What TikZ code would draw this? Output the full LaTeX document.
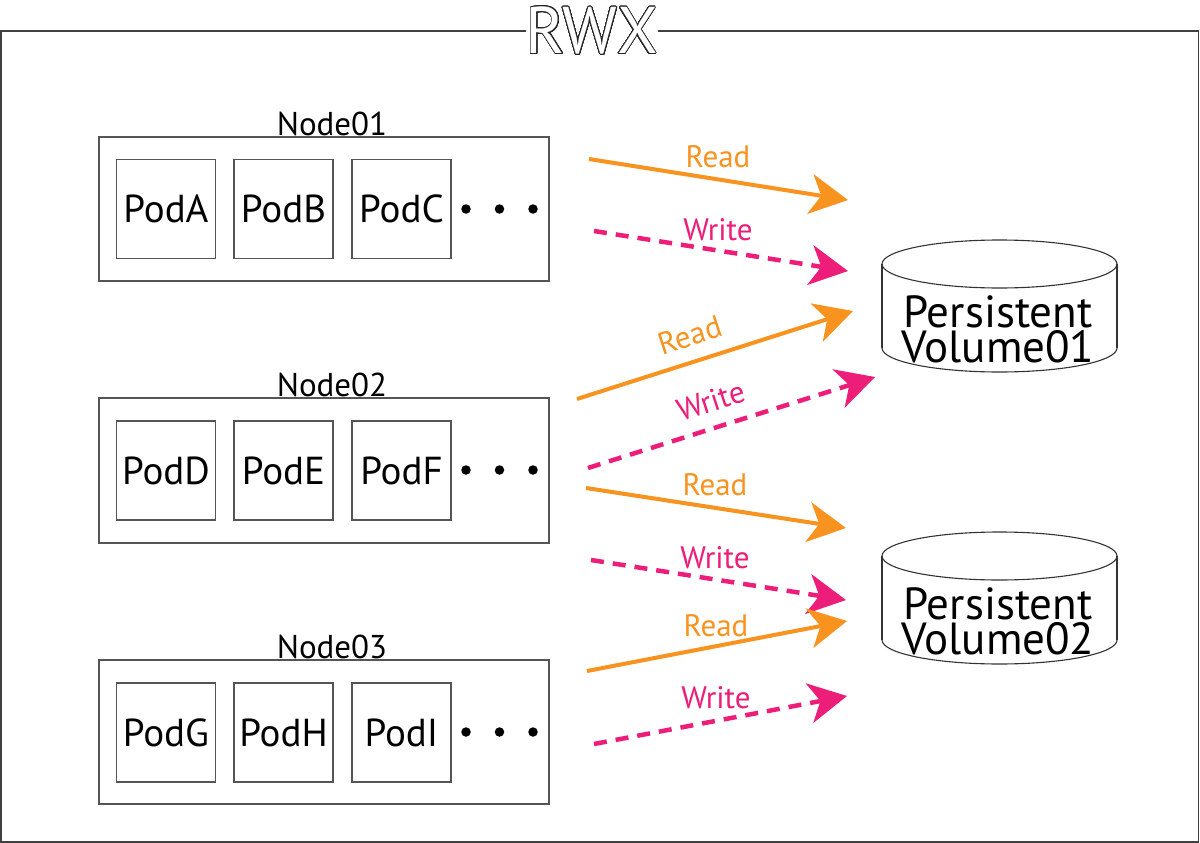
\documentclass[tikz,border=0pt]{standalone}
\usepackage{fontspec}
\setmainfont{PT Sans}
\usepackage{contour}
\contourlength{0.7pt}
\contournumber{40}
\usetikzlibrary{arrows.meta}
\definecolor{myorange}{HTML}{F7931E}
\definecolor{mypink}{HTML}{ED1E79}
\definecolor{linegray}{HTML}{555555}
\tikzset{
  frame/.style={draw=black!75, line width=1.6pt},
  nodebox/.style={draw=linegray, line width=1.3pt},
  podbox/.style={draw=linegray, line width=1.3pt, minimum width=99pt, minimum height=99pt, inner sep=0pt, font=\fontsize{39}{41}\selectfont},
  nlabel/.style={inner sep=1pt, font=\fontsize{33}{35}\selectfont},
  dotmark/.style={circle, fill=black, inner sep=0pt, minimum size=9.5pt},
  rlabel/.style={inner sep=0pt, text=myorange, font=\fontsize{31}{33}\selectfont},
  wlabel/.style={inner sep=0pt, text=mypink, font=\fontsize{31}{33}\selectfont},
  bigtip/.style={-{Stealth[length=38pt, width=40pt, inset=11pt]}},
  readarrow/.style={draw=myorange, line width=4pt, bigtip},
  writearrow/.style={draw=mypink, line width=4.5pt, dash pattern=on 13pt off 9pt, bigtip},
  cyl/.style={draw=black!80, line width=1.1pt},
  pvtext/.style={align=center, inner sep=0pt, font=\fontsize{45}{35}\selectfont},
}
\begin{document}
\begin{tikzpicture}[x=1pt, y=-1pt]
\useasboundingbox (0,0) rectangle (1200,843);
\fill[white] (0,0) rectangle (1200,843);
% outer frame
\draw[frame] (1,31) rectangle (1198.5,842);
\node[fill=white, inner sep=0pt, font=\fontsize{66}{66}\selectfont] (title) at (592,31) {\contour{black!85}{\textcolor{white}{RWX}}};

% Node boxes
\draw[nodebox] (99,137) rectangle (549,281);
\draw[nodebox] (99,398) rectangle (549,543);
\draw[nodebox] (99,660) rectangle (549,804);
\node[nlabel, anchor=south] (n1) at (332,137) {Node01};
\node[nlabel, anchor=south] (n2) at (332,398) {Node02};
\node[nlabel, anchor=south] (n3) at (332,660) {Node03};

% Pods
\node[podbox] (pa) at (166,209) {PodA};
\node[podbox] (pb) at (283.5,209) {PodB};
\node[podbox] (pc) at (401.5,209) {PodC};
\node[podbox] (pd) at (166,470.5) {PodD};
\node[podbox] (pe) at (283.5,470.5) {PodE};
\node[podbox] (pf) at (401.5,470.5) {PodF};
\node[podbox] (pg) at (166,732.5) {PodG};
\node[podbox] (ph) at (283.5,732.5) {PodH};
\node[podbox] (pi) at (401.5,732.5) {PodI};

% dots
\foreach \yy/\nm in {209/a, 470/b, 732/c}{
  \node[dotmark] (dot1\nm) at (466,\yy) {};
  \node[dotmark] (dot2\nm) at (499.5,\yy) {};
  \node[dotmark] (dot3\nm) at (533,\yy) {};
}

% cylinders
\draw[cyl, fill=white] (999.5,264) ellipse [x radius=117.5, y radius=24];
\draw[cyl] (882,264) -- (882,348);
\draw[cyl] (1117,264) -- (1117,348);
\begin{scope}
  \clip (870,348) rectangle (1130,380);
  \draw[cyl] (999.5,348) ellipse [x radius=117.5, y radius=24];
\end{scope}
\node[pvtext] (pv1) at (998,329) {Persistent\\Volume01};

\draw[cyl, fill=white] (999.5,556) ellipse [x radius=117.5, y radius=24];
\draw[cyl] (882,556) -- (882,640);
\draw[cyl] (1117,556) -- (1117,640);
\begin{scope}
  \clip (870,640) rectangle (1130,672);
  \draw[cyl] (999.5,640) ellipse [x radius=117.5, y radius=24];
\end{scope}
\node[pvtext] (pv2) at (998,621) {Persistent\\Volume02};

% arrow end points
\coordinate (s1) at (589,159);  \coordinate (e1) at (848,200);
\coordinate (s2) at (594,231);  \coordinate (e2) at (848,271);
\coordinate (s3) at (577,399);  \coordinate (e3) at (853,311);
\coordinate (s4) at (588,468);  \coordinate (e4) at (875,377);
\coordinate (s5) at (586,488);  \coordinate (e5) at (846,528);
\coordinate (s6) at (591,560);  \coordinate (e6) at (846,600);
\coordinate (s7) at (587,671);  \coordinate (e7) at (847,621);
\coordinate (s8) at (594,744);  \coordinate (e8) at (847,696);

\draw[readarrow] (s1) -- (e1);
\draw[writearrow] (s2) -- (e2);
\draw[readarrow] (s3) -- (e3);
\draw[writearrow] (s4) -- (e4);
\draw[readarrow] (s5) -- (e5);
\draw[writearrow] (s6) -- (e6);
\draw[readarrow] (s7) -- (e7);
\draw[writearrow] (s8) -- (e8);

% labels
\node[rlabel] (l1) at (718,157) {Read};
\node[wlabel] (l2) at (718,230) {Write};
\node[rlabel, rotate=18] (l3) at (690,335) {Read};
\node[wlabel, rotate=18] (l4) at (711,401) {Write};
\node[rlabel] (l5) at (715,485) {Read};
\node[wlabel] (l6) at (715,558) {Write};
\node[rlabel] (l7) at (716,626) {Read};
\node[wlabel] (l8) at (716,698) {Write};
\end{tikzpicture}
\end{document}
